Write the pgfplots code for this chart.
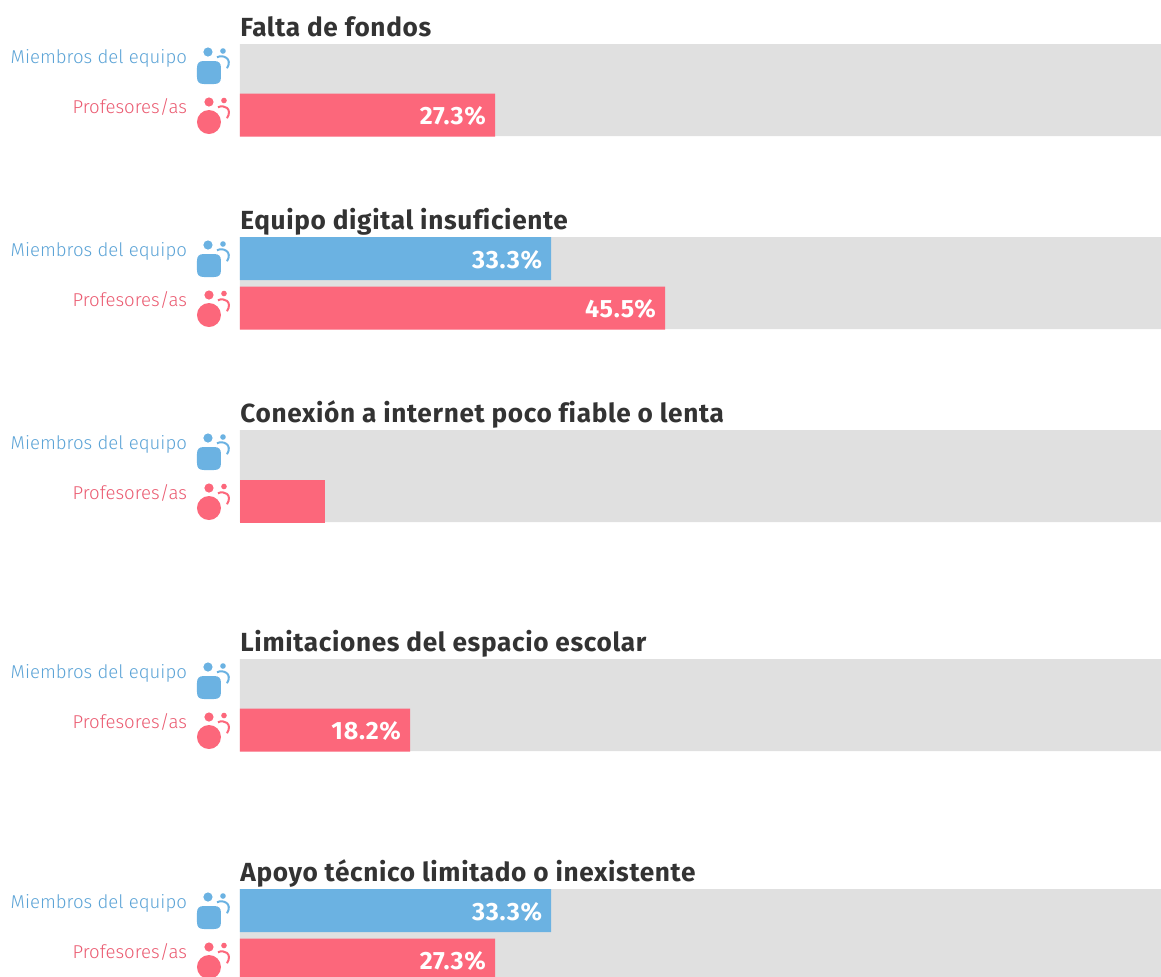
\documentclass[border=0pt]{standalone}
\usepackage{pgfplots}
\usepackage{fontspec}
\pgfplotsset{compat=1.18}
\setmainfont{Fira Sans}
\newfontfamily\lightf[Ligatures=NoCommon]{Fira Sans Light}
\newfontfamily\titlef[LetterSpace=2.5,Ligatures=NoCommon]{Fira Sans}
\newfontfamily\valuef[LetterSpace=3]{Fira Sans}
\definecolor{barbg}{HTML}{E0E0E0}
\definecolor{memberblue}{HTML}{6BB2E2}
\definecolor{teacherred}{HTML}{FC677B}
\definecolor{memberlabel}{HTML}{5BA3D6}
\definecolor{teacherlabel}{HTML}{EA5A70}
\definecolor{titlegray}{HTML}{333333}
\tikzset{title node/.style={font=\titlef\bfseries\fontsize{13.1}{15}\selectfont, text=titlegray, anchor=base west, inner sep=0pt}}

% icons, 1 px of the reference = 0.5pt
\pgfdeclareplotmark{member}{%
  \pgfsetfillcolor{memberblue}\pgfsetstrokecolor{memberblue}\pgfsetlinewidth{1pt}%
  \pgfpathcircle{\pgfpoint{-0.5pt}{6.75pt}}{2.3pt}%
  \pgfpathcircle{\pgfpoint{7pt}{7.25pt}}{1.4pt}\pgfusepathqfill
  \pgfpathmoveto{\pgfpoint{4pt}{4.1pt}}%
  \pgfpathcurveto{\pgfpoint{7pt}{5.7pt}}{\pgfpoint{12pt}{3.5pt}}{\pgfpoint{9pt}{-1.4pt}}\pgfusepathqstroke
  % body with round corners
  \pgfpathmoveto{\pgfpoint{-6pt}{-5.75pt}}%
  \pgfpathlineto{\pgfpoint{-6pt}{-1.25pt}}%
  \pgfpathcurveto{\pgfpoint{-6pt}{1.25pt}}{\pgfpoint{-5pt}{2.25pt}}{\pgfpoint{-2.5pt}{2.25pt}}%
  \pgfpathlineto{\pgfpoint{2.5pt}{2.25pt}}%
  \pgfpathcurveto{\pgfpoint{5pt}{2.25pt}}{\pgfpoint{6pt}{1.25pt}}{\pgfpoint{6pt}{-1.25pt}}%
  \pgfpathlineto{\pgfpoint{6pt}{-5.75pt}}%
  \pgfpathcurveto{\pgfpoint{6pt}{-8.25pt}}{\pgfpoint{5pt}{-9.25pt}}{\pgfpoint{2.5pt}{-9.25pt}}%
  \pgfpathlineto{\pgfpoint{-2.5pt}{-9.25pt}}%
  \pgfpathcurveto{\pgfpoint{-5pt}{-9.25pt}}{\pgfpoint{-6pt}{-8.25pt}}{\pgfpoint{-6pt}{-5.75pt}}%
  \pgfpathclose\pgfusepathqfill
}
\pgfdeclareplotmark{teacher}{%
  \pgfsetfillcolor{teacherred}\pgfsetstrokecolor{teacherred}\pgfsetlinewidth{1pt}%
  \pgfpathcircle{\pgfpoint{0pt}{6.75pt}}{2.3pt}%
  \pgfpathcircle{\pgfpoint{7.5pt}{7.5pt}}{1.4pt}%
  \pgfpathcircle{\pgfpoint{0pt}{-3.25pt}}{6pt}\pgfusepathqfill
  \pgfpathmoveto{\pgfpoint{4.5pt}{4.1pt}}%
  \pgfpathcurveto{\pgfpoint{7.5pt}{5.7pt}}{\pgfpoint{12pt}{3.5pt}}{\pgfpoint{9pt}{-1.4pt}}\pgfusepathqstroke
}

\begin{document}
\begin{tikzpicture}
\useasboundingbox (-120pt,0pt) rectangle (460.5pt,488pt);
\begin{axis}[
  at={(0pt,0pt)}, anchor=south west,
  scale only axis, width=460.5pt, height=488pt,
  xmin=0, xmax=98.6, ymin=0, ymax=976,
  y dir=reverse,
  axis line style={draw=none},
  xtick=\empty,
  clip=false,
  ytick={65.5,258.5,451.5,680.5,910.5},
  yticklabel={Miembros del equipo},
  extra y ticks={114,307,500,729,959},
  extra y tick labels={Profesores/as,Profesores/as,Profesores/as,Profesores/as,Profesores/as},
  extra y tick style={tick label style={text=teacherlabel}},
  major tick length=0pt,
  tick label style={font=\lightf\fontsize{9.3}{12}\selectfont, text=memberlabel, xshift=-23pt, yshift=3.7pt},
  every node near coord/.style={font=\valuef\bfseries\fontsize{12.5}{14}\selectfont, text=white, anchor=east, xshift=-1pt, yshift=-0.5pt},
  value bar/.style={xbar, bar shift=0pt, draw=none, bar width=21.5pt,
    nodes near coords={\pgfmathprintnumber[assume math mode=true,fixed,fixed zerofill,precision=1]{\pgfplotspointmeta}\%}},
]
% grey tracks
\addplot[xbar, bar shift=0pt, fill=barbg, draw=none, bar width=46pt] coordinates {(100,90) (100,283) (100,476) (100,705) (100,935)};
% members
\addplot[value bar, fill=memberblue] coordinates {(33.3,258.5) (33.3,910.5)};
% teachers
\addplot[value bar, fill=teacherred] coordinates {(27.3,115) (45.5,308) (18.2,730) (27.3,960)};
% no label on this one in the original
\addplot[xbar, bar shift=0pt, fill=teacherred, draw=none, bar width=21.5pt] coordinates {(9.1,501)};
% icons
\addplot[only marks, mark=member] coordinates {(-3.32,65.5) (-3.32,258.5) (-3.32,451.5) (-3.32,680.5) (-3.32,910.5)};
\addplot[only marks, mark=teacher] coordinates {(-3.32,115.5) (-3.32,308.5) (-3.32,501.5) (-3.32,730.5) (-3.32,960.5)};
\node[title node] at (axis cs:0,36) {Falta de fondos};
\node[title node] at (axis cs:0,229) {Equipo digital insuficiente};
\node[title node] at (axis cs:0,422) {Conexión a internet poco fiable o lenta};
\node[title node] at (axis cs:0,651) {Limitaciones del espacio escolar};
\node[title node] at (axis cs:0,881) {Apoyo técnico limitado o inexistente};
\end{axis}
\end{tikzpicture}
\end{document}
